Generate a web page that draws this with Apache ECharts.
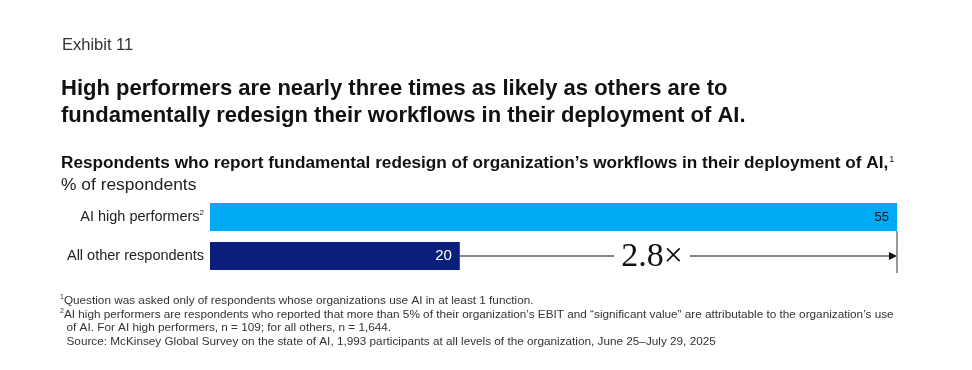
<!DOCTYPE html>
<html><head><meta charset="utf-8">
<script src="https://cdn.jsdelivr.net/npm/echarts@6/dist/echarts.min.js"></script>
<style>html,body{margin:0;padding:0;background:#fff}#c{width:972px;height:370px}</style>
</head><body><div id="c"></div>
<script>
const categories = ['AI high performers', 'All other respondents'];
const values = [55, 20];
const multipleLabel = '2.8×';
const barColors = ['#00A9F4', '#0A1F7C'];
const labelColors = ['#111', '#fff'];

const FONT = 'Arial, "Liberation Sans", Helvetica, sans-serif';
const chart = echarts.init(document.getElementById('c'), null, {renderer: 'canvas'});

const option = {
  animation: false,
  backgroundColor: '#fff',
  title: [
    {text: 'Exhibit 11', left: 62, top: 37, padding: 0, textStyle: {fontFamily: FONT, fontSize: 16.5, fontWeight: 'normal', color: '#333'}},
    {text: 'High performers are nearly three times as likely as others are to\nfundamentally redesign their workflows in their deployment of AI.',
     left: 61, top: 75, padding: 0, textStyle: {fontFamily: FONT, fontSize: 22, fontWeight: 'bold', color: '#111', lineHeight: 27}},
    {text: 'Respondents who report fundamental redesign of organization’s workflows in their deployment of AI,{s|1}',
     left: 61, top: 155, padding: 0, textStyle: {fontFamily: FONT, fontSize: 17.2, fontWeight: 'bold', color: '#111',
       rich: {s: {fontSize: 9, fontWeight: 'normal', verticalAlign: 'top', lineHeight: 12, padding: [0,0,8,1]}}}},
    {text: '% of respondents', left: 61, top: 177, padding: 0, textStyle: {fontFamily: FONT, fontSize: 17.4, fontWeight: 'normal', color: '#222'}},
    {text: '{s|1}Question was asked only of respondents whose organizations use AI in at least 1 function.\n' +
           '{s|2}AI high performers are respondents who reported that more than 5% of their organization’s EBIT and “significant value” are attributable to the organization’s use\n' +
           '  of AI. For AI high performers, n = 109; for all others, n = 1,644.\n' +
           '  Source: McKinsey Global Survey on the state of AI, 1,993 participants at all levels of the organization, June 25–July 29, 2025',
     left: 60, top: 294, padding: 0, textStyle: {fontFamily: FONT, fontSize: 11.75, fontWeight: 'normal', color: '#333', lineHeight: 13.7,
       rich: {s: {fontSize: 7, verticalAlign: 'top', padding: [0,0,5,0], lineHeight: 13.7}}}}
  ],
  grid: {left: 210, right: 75, top: 197.5, height: 78, containLabel: false},
  xAxis: {type: 'value', min: 0, max: 55, show: false},
  yAxis: {
    type: 'category', inverse: true, data: categories,
    axisLine: {show: false}, axisTick: {show: false},
    axisLabel: {
      margin: 6, fontFamily: FONT, fontSize: 14.5, color: '#222',
      formatter: function (v, i) { return i === 0 ? v + '{s|2}' : v; },
      rich: {s: {fontSize: 8, verticalAlign: 'top', padding: [0,0,8,0], color: '#222'}}
    }
  },
  series: [{
    type: 'bar', barWidth: 28,
    data: values.map((v, i) => ({value: v, itemStyle: {color: barColors[i]},
      label: {color: labelColors[i], fontSize: i === 0 ? 13 : 15}})),
    label: {show: true, position: 'insideRight', distance: 8, fontFamily: FONT},
    silent: true
  }]
};
chart.setOption(option);

// bracket annotation derived from the data scale
const pEnd2 = chart.convertToPixel({gridIndex: 0}, [values[1], 1]);
const pMax = chart.convertToPixel({gridIndex: 0}, [values[0], 1]);
const pTop = chart.convertToPixel({gridIndex: 0}, [values[0], 0]);
const y = pEnd2[1];
const xs = pEnd2[0], xe = pMax[0];
const midX = xe - 245;
const gap = 38;
chart.setOption({
  graphic: [
    {type: 'line', shape: {x1: xs, y1: y, x2: midX - gap, y2: y}, style: {stroke: '#111', lineWidth: 1.2}},
    {type: 'line', shape: {x1: midX + gap, y1: y, x2: xe - 6, y2: y}, style: {stroke: '#111', lineWidth: 1.2}},
    {type: 'polygon', shape: {points: [[xe - 8, y - 4], [xe, y], [xe - 8, y + 4]]}, style: {fill: '#111'}},
    {type: 'line', shape: {x1: xe, y1: pTop[1] + 14, x2: xe, y2: y + 17}, style: {stroke: '#333', lineWidth: 1}},
    {type: 'text', x: midX, y: y + 1, style: {text: multipleLabel, fontFamily: '"Liberation Serif", "DejaVu Serif", serif', fontSize: 34, fill: '#111', align: 'center', verticalAlign: 'middle'}}
  ]
});
</script></body></html>
